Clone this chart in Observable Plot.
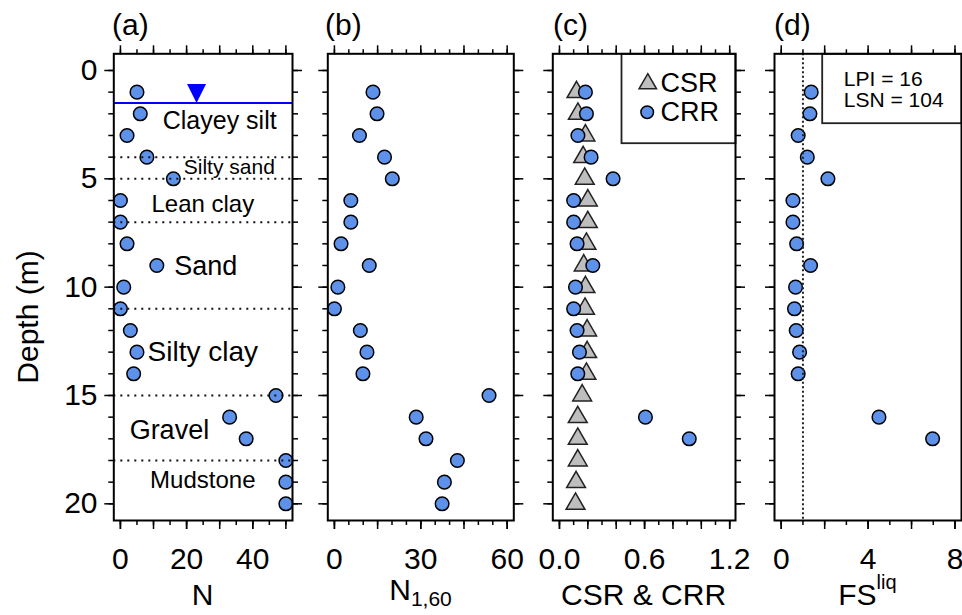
<!DOCTYPE html>
<html><head><meta charset="utf-8">
<script src="https://cdn.jsdelivr.net/npm/d3@7"></script>
<script src="https://cdn.jsdelivr.net/npm/@observablehq/plot@0.6"></script>
<style>
body{margin:0;background:#fff;}
#wrap{position:relative;width:962px;height:615px;overflow:hidden;background:#fff;font-family:"Liberation Sans",Arial,sans-serif;color:#000;}
#wrap svg{position:absolute;top:0;overflow:visible;max-width:none;}
.t{position:absolute;white-space:nowrap;line-height:1;}
</style></head><body><div id="wrap"></div>
<script>
// ---- data ----
const depth = [1,2,3,4,5,6,7,8,9,10,11,12,13,14,15,16,17,18,19,20];
const N     = [5,6,2,8,16,0,0,2,11,1,0,3,5,4,47,33,38,50,50,50];
const N160  = [13.4,14.8,8.7,17.4,20.1,5.7,5.7,2.3,12.1,1.2,0,9.0,11.3,9.9,53.7,28.4,31.8,42.7,38.2,37.4];
const CSR   = [0.12,0.13,0.183,0.167,0.178,0.2,0.2,0.19,0.171,0.183,0.18,0.195,0.195,0.19,0.16,0.129,0.129,0.129,0.117,0.113];
const CRR   = [0.183,0.19,0.13,0.223,0.378,0.10,0.10,0.124,0.235,0.113,0.10,0.124,0.141,0.129,null,0.606,0.915,null,null,null];
const FS    = [1.38,1.32,0.78,1.2,2.15,0.54,0.54,0.71,1.35,0.66,0.61,0.69,0.845,0.78,null,4.5,6.97,null,null,null];
const layerBoundaries = [4,5,7,11,15,18];
const layerNames = ["Clayey silt","Silty sand","Lean clay","Sand","Silty clay","Gravel","Mudstone"];
const layerLabelDepth = [2.34,4.46,6.18,9.05,13.0,16.6,18.9];
const layerLabelN = [30.0,32.9,24.9,25.8,24.9,14.8,24.9];
const layerLabelSize = [25,21,24,27,28,27,24];
const waterTable = 1.5;
const waterMarkerN = 23;
const depthTicks = [0,5,10,15,20];
const nTicks = [0,20,40];
const n160Ticks = [0,30,60];
const csrTicks = [0.0,0.6,1.2];
const fsTicks = [0,4,8];
const fsThreshold = 1;
const legendLabels = ["CSR","CRR"];
const indexLabels = ["LPI = 16","LSN = 104"];
const panelLetters = ["(a)","(b)","(c)","(d)"];

// ---- helpers ----
const wrap = document.getElementById("wrap");
const FONT = '"Liberation Sans", Arial, sans-serif';
const BLUE = "#5E92EA";
const rows = depth.map((d,i)=>({d, N:N[i], N160:N160[i], CSR:CSR[i], CRR:CRR[i], FS:FS[i]}));
const downTriangle = {draw(ctx, size){ const r = Math.sqrt(size/Math.PI); ctx.moveTo(0,0); ctx.lineTo(-r,-2*r); ctx.lineTo(r,-2*r); ctx.closePath(); }};
const blank = () => "";

function axes(p){
  const sw = 1.5;
  const out = [];
  for (const anchor of ["bottom","top"]) {
    out.push(Plot.axisX({anchor, ticks:p.minor, tickSize:5, tickFormat:blank, label:null, strokeWidth:sw}));
    out.push(Plot.axisX({anchor, ticks:p.major, tickSize:9, tickFormat:blank, label:null, strokeWidth:sw}));
  }
  out.push(Plot.axisX({anchor:"bottom", ticks:p.labels, tickSize:9, tickPadding:18, tickFormat:p.fmt, fontSize:30, label:null, strokeWidth:sw}));
  for (const anchor of ["left","right"]) {
    out.push(Plot.axisY({anchor, ticks:d3.range(0,21,1), tickSize:5, tickFormat:blank, label:null, strokeWidth:sw}));
    out.push(Plot.axisY({anchor, ticks:depthTicks, tickSize:9, tickPadding:7.3,
      tickFormat:(p.key==="a" && anchor==="left") ? (d=>String(d)) : blank, fontSize:30, label:null, strokeWidth:sw}));
  }
  return out;
}

function panel(p, marks){
  const svg = Plot.plot({
    width:p.width, height:615, marginTop:53.3, marginBottom:95, marginLeft:p.mL, marginRight:p.mR,
    x:{domain:p.domain}, y:{domain:[-0.77,20.77], reverse:true},
    style:{fontFamily:FONT, color:"black", background:"transparent", overflow:"visible"},
    marks:[...axes(p), ...marks, Plot.frame({stroke:"black", strokeWidth:2})]
  });
  svg.style.left = p.left + "px";
  wrap.append(svg);
}

const dotStyle = {r:6.8, fill:BLUE, stroke:"black", strokeWidth:1.5};

// (a) N
panel({key:"a", left:0, width:300, mL:113.3, mR:8, domain:[-2,52],
  minor:d3.range(0,51,5), major:d3.range(0,51,10), labels:nTicks, fmt:d=>String(d)}, [
  Plot.dot(rows, {x:"N", y:"d", ...dotStyle}),
  Plot.ruleY(layerBoundaries, {stroke:"#111", strokeWidth:2, strokeDasharray:"2,5"}),
  Plot.ruleY([waterTable], {stroke:"#0000ff", strokeWidth:2}),
  Plot.dot([{N:waterMarkerN, d:waterTable}], {x:"N", y:"d", symbol:downTriangle, r:9.5, fill:"#0000ff", stroke:"none"}),
  Plot.text(layerNames.map((name,i)=>({name, N:layerLabelN[i], d:layerLabelDepth[i], s:layerLabelSize[i]})),
    {x:"N", y:"d", text:"name", fontSize:d=>d.s, textAnchor:"middle", lineAnchor:"middle", fill:"black"})
]);

// (b) N1,60
panel({key:"b", left:300, width:230, mL:27.3, mR:16.7, domain:[-2.3,62.3],
  minor:d3.range(0,61,5), major:d3.range(0,61,15), labels:n160Ticks, fmt:d=>String(d)}, [
  Plot.dot(rows, {x:"N160", y:"d", ...dotStyle})
]);

// (c) CSR & CRR
panel({key:"c", left:530, width:215, mL:22.3, mR:10, domain:[-0.047,1.241],
  minor:d3.range(0,13,1).map(v=>v/10), major:d3.range(0,13,2).map(v=>v/10), labels:csrTicks, fmt:d=>d.toFixed(1)}, [
  Plot.dot(rows, {x:"CSR", y:"d", symbol:"triangle", r:7, fill:"#BEBEBE", stroke:"#222", strokeWidth:1.5}),
  Plot.dot(rows.filter(r=>r.CRR!=null), {x:"CRR", y:"d", ...dotStyle}),
  Plot.frame({insetLeft:68.7, insetBottom:377.3, stroke:"#222", strokeWidth:1.8}),
  Plot.dot([legendLabels[0]], {frameAnchor:"top-left", dx:95, dy:30, symbol:"triangle", r:6.5, fill:"#BEBEBE", stroke:"#222", strokeWidth:1.5}),
  Plot.dot([legendLabels[1]], {frameAnchor:"top-left", dx:94.4, dy:58.4, r:6.3, fill:BLUE, stroke:"black", strokeWidth:1.5}),
  Plot.text([legendLabels[0]], {text:d=>d, frameAnchor:"top-left", dx:107.7, dy:30, textAnchor:"start", lineAnchor:"middle", fontSize:27, fill:"black"}),
  Plot.text([legendLabels[1]], {text:d=>d, frameAnchor:"top-left", dx:107.7, dy:58.4, textAnchor:"start", lineAnchor:"middle", fontSize:27, fill:"black"})
]);

// (d) FS
panel({key:"d", left:745, width:217, mL:29, mR:1, domain:[-0.31,8.3],
  minor:d3.range(0,9,1), major:d3.range(0,9,2), labels:fsTicks, fmt:d=>String(d)}, [
  Plot.dot(rows.filter(r=>r.FS!=null), {x:"FS", y:"d", ...dotStyle}),
  Plot.ruleX([fsThreshold], {stroke:"#222", strokeWidth:2, strokeDasharray:"2,2.5"}),
  Plot.frame({insetLeft:47.7, insetBottom:397.3, stroke:"#222", strokeWidth:1.8}),
  Plot.text([indexLabels[0]], {text:d=>d, frameAnchor:"top-left", dx:69.3, dy:25, textAnchor:"start", lineAnchor:"middle", fontSize:21, fill:"black"}),
  Plot.text([indexLabels[1]], {text:d=>d, frameAnchor:"top-left", dx:69.3, dy:46.7, textAnchor:"start", lineAnchor:"middle", fontSize:21, fill:"black"})
]);

// ---- HTML text ----
function txt(html, x, baseline, size, anchor){
  const el = document.createElement("div");
  el.className = "t";
  el.style.fontSize = size + "px";
  el.innerHTML = html;
  el.style.top = (baseline - 0.8465*size) + "px";
  if (anchor === "middle") { el.style.left = (x-150)+"px"; el.style.width = "300px"; el.style.textAlign = "center"; }
  else el.style.left = x + "px";
  wrap.append(el);
  return el;
}
const panelLeft = [112, 325, 553, 774];
panelLetters.forEach((t,i)=>txt(t, panelLeft[i], 35, 30, "start"));
txt("N", 202.7, 605, 30, "middle");
txt('N<span style="font-size:21px;position:relative;top:6px">1,60</span>', 420.5, 600, 30, "middle");
txt("CSR &amp; CRR", 643.6, 605, 30, "middle");
txt('FS<span style="font-size:20px;position:relative;top:-16px">liq</span>', 867.4, 605, 30, "middle");
const yl = document.createElement("div");
yl.className = "t";
yl.textContent = "Depth (m)";
Object.assign(yl.style, {fontSize:"30px", lineHeight:"30px", width:"200px", height:"30px", textAlign:"center",
  left:(28-100)+"px", top:(317-15)+"px", transform:"rotate(-90deg)", transformOrigin:"50% 50%"});
wrap.append(yl);
</script></body></html>
